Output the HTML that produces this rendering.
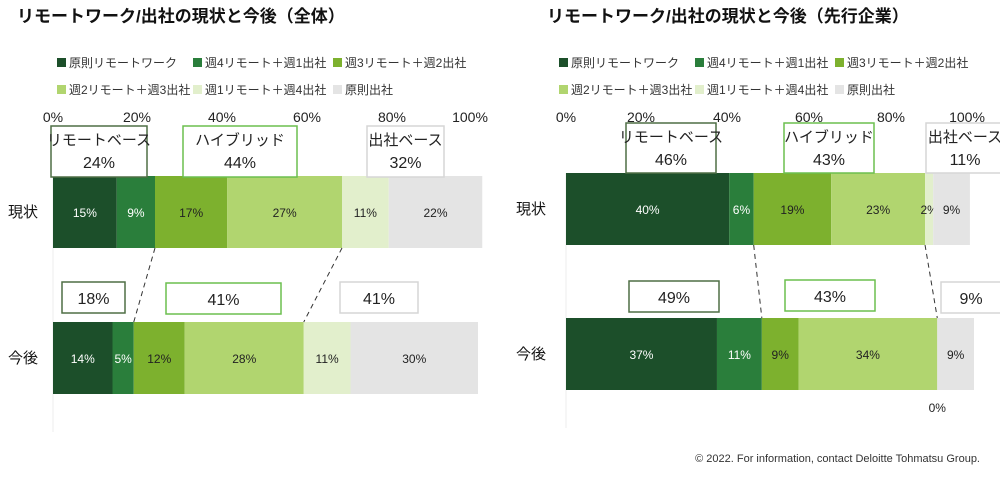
<!DOCTYPE html>
<html><head><meta charset="utf-8"><style>
body{margin:0;background:#fff;width:1000px;height:474px;overflow:hidden;font-family:"Liberation Sans","Noto Sans CJK JP",sans-serif}
svg text{font-family:"Liberation Sans","Noto Sans CJK JP",sans-serif}
</style></head><body>
<svg id="c" width="1000" height="474"></svg>
<script>
const categories=["現状","今後"];
const seriesNames=["原則リモートワーク","週4リモート＋週1出社","週3リモート＋週2出社","週2リモート＋週3出社","週1リモート＋週4出社","原則出社"];
const allCurrent=[15,9,17,27,11,22];
const allFuture=[14,5,12,28,11,30];
const leadCurrent=[40,6,19,23,2,9];
const leadFuture=[37,11,9,34,0,9];
const allGroupsCurrent=[24,44,32];
const allGroupsFuture=[18,41,41];
const leadGroupsCurrent=[46,43,11];
const leadGroupsFuture=[49,43,9];
const tickLabels=["0%","20%","40%","60%","80%","100%"];
const colors=["#1c4f2a","#2a7e3b","#7db12e","#b1d56f","#e2efcc","#e4e4e4"];
const NS="http://www.w3.org/2000/svg";
const svg=document.getElementById('c');
function mk(t,a,txt){const e=document.createElementNS(NS,t);for(const k in a)e.setAttribute(k,a[k]);if(txt!==undefined)e.textContent=txt;svg.appendChild(e);return e;}
function chart(cfg){
  const xs=v=>cfg.x0+v*cfg.ppu;
  let e=mk('text',{x:cfg.tx,y:22,'font-size':17,'font-weight':'bold',fill:'#111'},cfg.title);
  
  
  seriesNames.forEach((n,i)=>{
    const lx=cfg.lx+[0,136,276][i%3], ly=i<3?63:90;
    const r=mk('rect',{x:lx,y:ly-5,width:9,height:9,fill:colors[i]});
    
    
    const t=mk('text',{x:lx+12,y:ly+4,'font-size':12,fill:'#333'},n);
    
    
  });
  tickLabels.forEach((l,i)=>{
    const t=mk('text',{x:cfg.ticks[i],y:122,'font-size':14,'text-anchor':'middle',fill:'#222'},l);
    
    
  });
  let ax=mk('line',{x1:cfg.x0,y1:cfg.by[0],x2:cfg.x0,y2:cfg.by[1]+110,stroke:'#eee'});
  
  
  const data=[cfg.cur,cfg.fut];
  const edges=[];
  data.forEach((vals,ri)=>{
    const y=cfg.by[ri];let acc=0;const ed=[];
    const cl=mk('text',{x:cfg.labx,y:y+41,'font-size':15,fill:'#111'},categories[ri]);
    
    
    vals.forEach((v,i)=>{
      const x=xs(acc),w=v*cfg.ppu;ed.push(x);
      const r=mk('rect',{x:x,y:y,width:w,height:cfg.bh,fill:colors[i]});
      
      
      let tx=x+w/2; if(v===0) tx=x;
      const t=mk('text',{x:tx,y:v===0?y+cfg.bh+22:y+cfg.bh/2+5,'font-size':12,'text-anchor':'middle',fill:i<2?'#fff':'#222'},v+'%');
      
      
      acc+=v;
    });
    ed.push(xs(acc));edges.push(ed);
  });
  [2,4].forEach(k=>{
    const l=mk('line',{x1:edges[0][k],y1:cfg.by[0]+cfg.bh,x2:edges[1][k],y2:cfg.by[1],stroke:'#333','stroke-dasharray':'5,4'});
    
    
  });
  const bc=["#4f6f45","#6cbf4f","#d6d6d6"],gn=["リモートベース","ハイブリッド","出社ベース"];
  cfg.gb.forEach((b,i)=>{
    const r=mk('rect',{x:b[0],y:b[1],width:b[2],height:b[3],fill:'#fff',stroke:bc[i],'stroke-width':1.5});
    
    
    const cx=b[0]+b[2]/2;
    let t=mk('text',{x:cx,y:b[1]+19,'font-size':15,'text-anchor':'middle',fill:'#222'},gn[i]);
    
    
    t=mk('text',{x:cx,y:b[1]+42,'font-size':16,'text-anchor':'middle',fill:'#222'},cfg.gc[i]+'%');
    
    
  });
  cfg.fb.forEach((b,i)=>{
    const r=mk('rect',{x:b[0],y:b[1],width:b[2],height:31,fill:'#fff',stroke:bc[i],'stroke-width':1.5});
    
    
    const t=mk('text',{x:b[0]+b[2]/2,y:b[1]+22,'font-size':16,'text-anchor':'middle',fill:'#222'},cfg.gf[i]+'%');
    
    
  });
}
chart({title:"リモートワーク/出社の現状と今後（全体）",tx:17,lx:57,x0:53,ppu:4.25,by:[176,322],bh:72,labx:8,
  ticks:[53,137,222,307,392,470],cur:allCurrent,fut:allFuture,gc:allGroupsCurrent,gf:allGroupsFuture,
  gb:[[51,126,96,51],[183,126,114,51],[367,126,77,51]],fb:[[62,282,63],[166,283,115],[340,282,78]]});
chart({title:"リモートワーク/出社の現状と今後（先行企業）",tx:547,lx:559,x0:566,ppu:4.08,by:[173,318],bh:72,labx:516,
  ticks:[566,641,727,809,891,967],cur:leadCurrent,fut:leadFuture,gc:leadGroupsCurrent,gf:leadGroupsFuture,
  gb:[[626,123,90,50],[784,123,90,50],[926,123,78,50]],fb:[[629,281,90],[785,280,90],[941,282,60]]});
const f=mk('text',{x:980,y:462,'font-size':11,'text-anchor':'end',fill:'#333'},"© 2022. For information, contact Deloitte Tohmatsu Group.");


</script>
</body></html>
